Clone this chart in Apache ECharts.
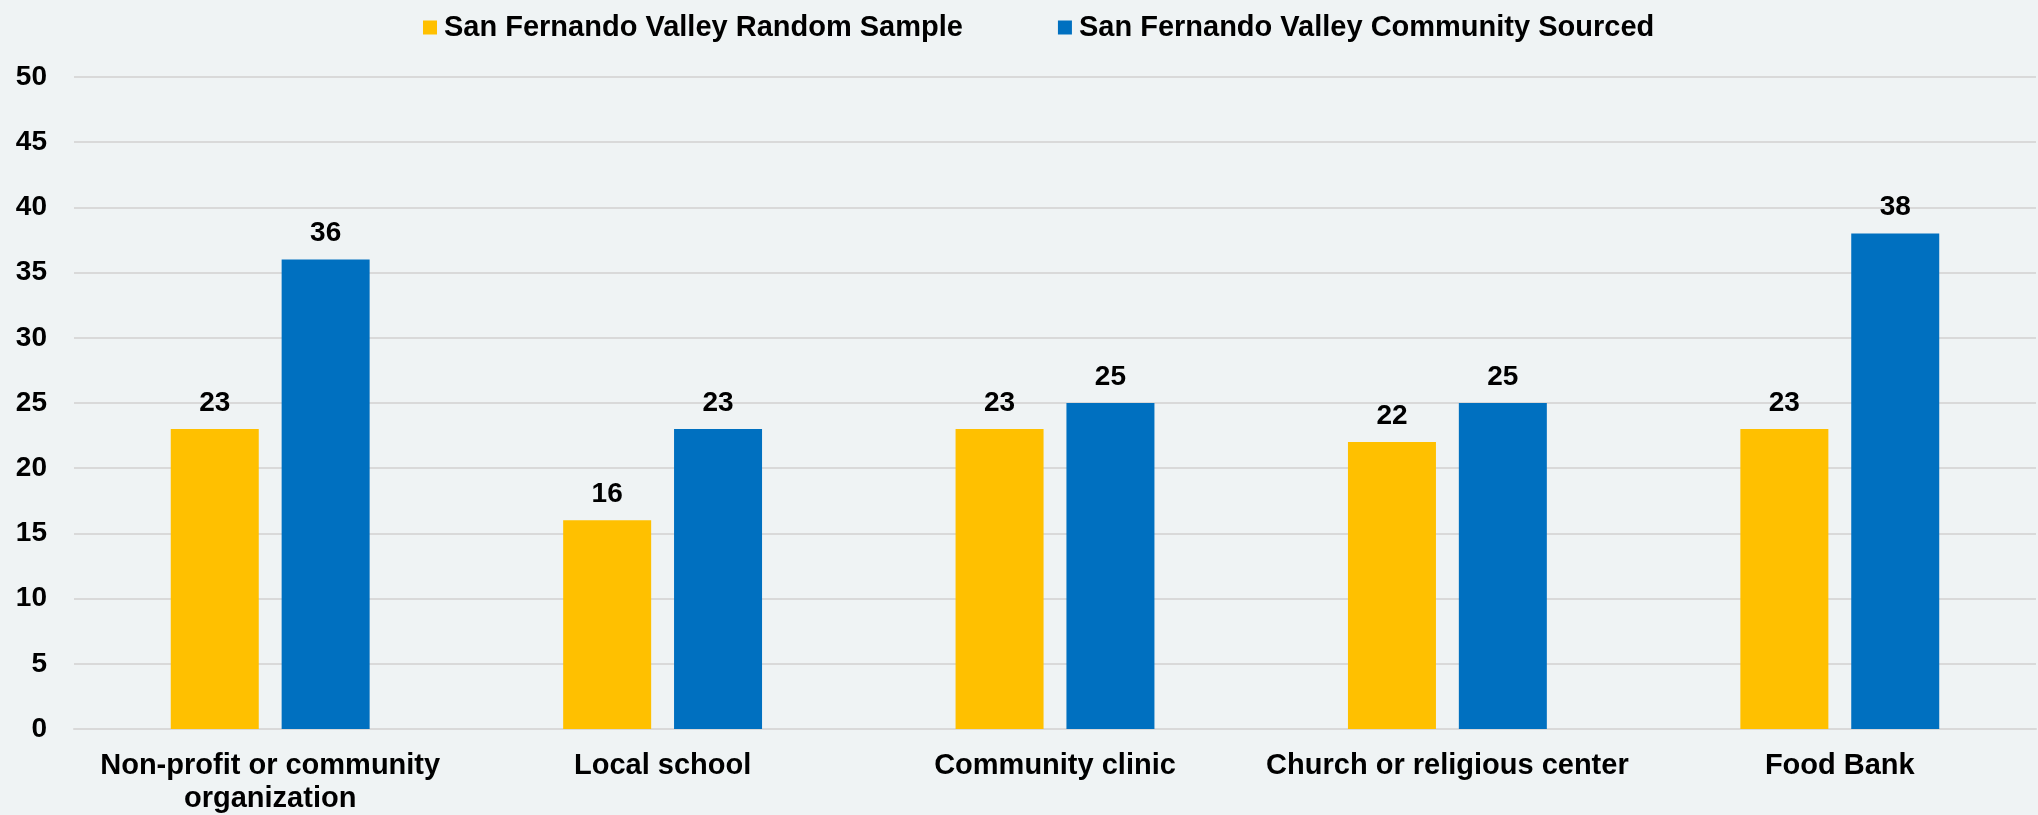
<!DOCTYPE html>
<html>
<head>
<meta charset="utf-8">
<script src="https://cdn.jsdelivr.net/npm/echarts@6/dist/echarts.min.js"></script>
<style>
  html, body { margin: 0; padding: 0; background: #eff3f4; }
  #chart { width: 2038px; height: 815px; }
</style>
</head>
<body>
<div id="chart"></div>
<script>
const categories = [
  'Non-profit or community\norganization',
  'Local school',
  'Community clinic',
  'Church or religious center',
  'Food Bank'
]
const seriesNames = ['San Fernando Valley Random Sample', 'San Fernando Valley Community Sourced']
const randomSample = [23, 16, 23, 22, 23]
const communitySourced = [36, 23, 25, 25, 38]

const font = '"Liberation Sans", Arial, sans-serif'
const labelStyle = {
  show: true,
  position: 'top',
  distance: 12,
  color: '#000',
  fontFamily: font,
  fontWeight: 'bold',
  fontSize: 28
}

const chart = echarts.init(document.getElementById('chart'))
chart.setOption({
  backgroundColor: '#eff3f4',
  animation: false,
  legend: {
    left: 418,
    top: 8,
    itemWidth: 14,
    itemHeight: 14,
    itemGap: 95,
    icon: 'rect',
    textStyle: {
      fontFamily: font,
      fontWeight: 'bold',
      fontSize: 29,
      color: '#000',
      padding: [0, 0, 0, 2]
    },
    data: seriesNames
  },
  grid: {
    left: 74,
    right: 2,
    top: 77,
    bottom: 82,
    containLabel: false
  },
  xAxis: {
    type: 'category',
    data: categories,
    axisTick: { show: false },
    axisLine: { lineStyle: { color: '#d9d9d9', width: 2 } },
    axisLabel: {
      interval: 0,
      margin: 20,
      fontFamily: font,
      fontWeight: 'bold',
      fontSize: 29,
      lineHeight: 33,
      color: '#000'
    }
  },
  yAxis: {
    type: 'value',
    min: 0,
    max: 50,
    interval: 5,
    axisLine: { show: false },
    axisTick: { show: false },
    splitLine: { lineStyle: { color: '#d9d9d9', width: 2 } },
    axisLabel: {
      margin: 27,
      fontFamily: font,
      fontWeight: 'bold',
      fontSize: 28,
      color: '#000'
    }
  },
  series: [
    {
      name: seriesNames[0],
      type: 'bar',
      data: randomSample,
      barWidth: 88,
      barGap: '26%',
      itemStyle: { color: '#ffc000' },
      label: labelStyle
    },
    {
      name: seriesNames[1],
      type: 'bar',
      data: communitySourced,
      barWidth: 88,
      barGap: '26%',
      itemStyle: { color: '#0070c0' },
      label: labelStyle
    }
  ]
})
</script>
</body>
</html>
